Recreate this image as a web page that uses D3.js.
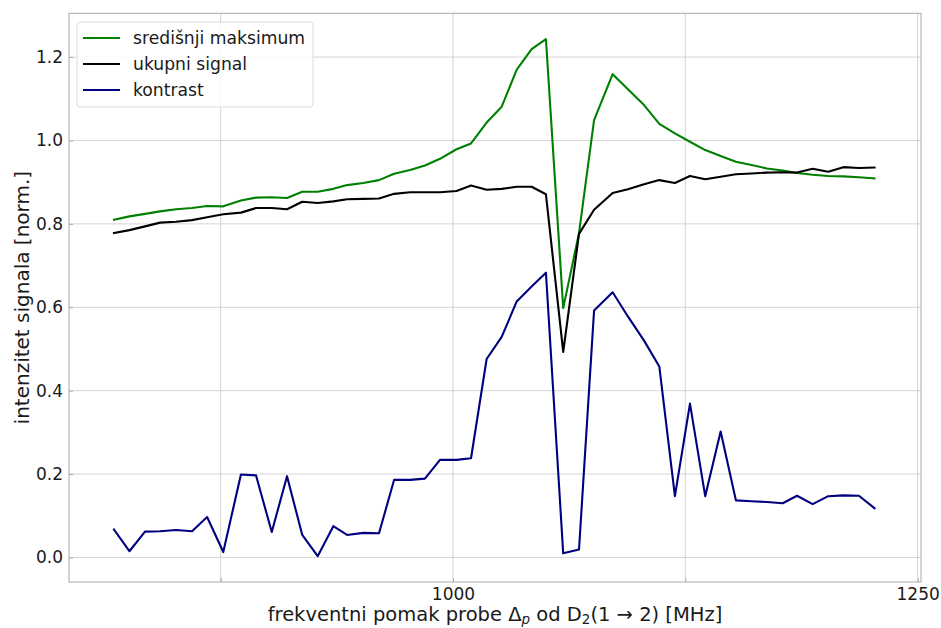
<!DOCTYPE html>
<html>
<head>
<meta charset="utf-8">
<script src="https://cdn.jsdelivr.net/npm/d3@7"></script>
<style>
  html, body { margin: 0; padding: 0; background: #fff; }
  svg { display: block; font-family: "DejaVu Sans", sans-serif; }
</style>
</head>
<body>
<svg id="chart" width="941" height="628"></svg>
<script>
// ---- data ----
const freq = [817.6, 825.9, 834.3, 842.4, 851.0, 859.6, 867.7, 876.4, 885.9, 894.0,
  902.5, 910.7, 918.9, 927.2, 935.6, 943.0, 951.7, 960.2, 968.3, 976.9,
  984.9, 993.0, 1001.9, 1009.7, 1018.1, 1026.2, 1034.3, 1042.3, 1050.0, 1059.3,
  1067.8, 1075.9, 1085.9, 1094.1, 1102.8, 1111.0, 1119.4, 1127.5, 1135.7, 1144.0,
  1152.2, 1160.6, 1168.9, 1177.4, 1185.1, 1193.5, 1201.9, 1210.0, 1218.4, 1226.8];

const centralMax = [0.810, 0.818, 0.824, 0.830, 0.835, 0.838, 0.843, 0.842, 0.856, 0.863,
  0.864, 0.862, 0.877, 0.877, 0.884, 0.893, 0.898, 0.905, 0.920, 0.929,
  0.940, 0.956, 0.979, 0.993, 1.043, 1.081, 1.170, 1.219, 1.243, 0.598,
  0.778, 1.049, 1.159, 1.123, 1.085, 1.040, 1.017, 0.997, 0.977, 0.963,
  0.949, 0.941, 0.933, 0.928, 0.922, 0.918, 0.915, 0.914, 0.912, 0.909];

const totalSignal = [0.778, 0.785, 0.794, 0.803, 0.805, 0.809, 0.816, 0.823, 0.827, 0.838,
  0.838, 0.835, 0.853, 0.850, 0.854, 0.859, 0.860, 0.861, 0.872, 0.876,
  0.876, 0.876, 0.879, 0.892, 0.882, 0.884, 0.889, 0.889, 0.871, 0.493,
  0.776, 0.834, 0.874, 0.883, 0.895, 0.905, 0.898, 0.915, 0.907, 0.913,
  0.919, 0.921, 0.923, 0.924, 0.923, 0.932, 0.925, 0.936, 0.934, 0.935];

const contrast = [0.067, 0.015, 0.062, 0.063, 0.066, 0.063, 0.097, 0.013, 0.199, 0.197,
  0.061, 0.195, 0.054, 0.003, 0.075, 0.054, 0.059, 0.058, 0.186, 0.186,
  0.189, 0.234, 0.234, 0.238, 0.476, 0.529, 0.614, 0.650, 0.683, 0.010,
  0.019, 0.592, 0.636, 0.578, 0.520, 0.458, 0.147, 0.369, 0.147, 0.302,
  0.137, 0.135, 0.133, 0.130, 0.148, 0.128, 0.147, 0.149, 0.148, 0.118];

const seriesNames = ["središnji maksimum", "ukupni signal", "kontrast"];
const seriesColors = ["#008000", "#000000", "#000080"];

const xTicks = [875, 1000, 1125, 1250];
const xTickLabels = ["", "1000", "", "1250"];
const yTicks = [0.0, 0.2, 0.4, 0.6, 0.8, 1.0, 1.2];
const yTickLabels = ["0.0", "0.2", "0.4", "0.6", "0.8", "1.0", "1.2"];

// ---- layout ----
const svg = d3.select("#chart");
const L = 69, R = 921, T = 13.3, B = 582;
const x = d3.scaleLinear().domain([793.4, 1251.8]).range([L, R]);
const y = d3.scaleLinear().domain([-0.0588, 1.305]).range([B, T]);

const spineColor = "#aaaaaa";
const gridColor = "#d4d4d4";
const tickFont = 17;

// grid
const g = svg.append("g");
g.selectAll(".gx").data(xTicks).enter().append("line")
  .attr("x1", d => x(d)).attr("x2", d => x(d))
  .attr("y1", T).attr("y2", B)
  .attr("stroke", gridColor).attr("stroke-width", 1);
g.selectAll(".gy").data(yTicks).enter().append("line")
  .attr("x1", L).attr("x2", R)
  .attr("y1", d => y(d)).attr("y2", d => y(d))
  .attr("stroke", gridColor).attr("stroke-width", 1);

// axes
const xAxis = d3.axisBottom(x).tickValues(xTicks)
  .tickFormat((d, i) => xTickLabels[i]).tickSizeInner(-4).tickSizeOuter(0).tickPadding(6);
const yAxis = d3.axisLeft(y).tickValues(yTicks)
  .tickFormat((d, i) => yTickLabels[i]).tickSizeInner(-4).tickSizeOuter(0).tickPadding(6);

const gx = svg.append("g").attr("transform", `translate(0,${B})`).call(xAxis);
const gy = svg.append("g").attr("transform", `translate(${L},0)`).call(yAxis);
[gx, gy].forEach(a => {
  a.select(".domain").remove();
  a.selectAll(".tick line").attr("stroke", spineColor).attr("stroke-width", 1);
  a.selectAll(".tick text").attr("fill", "#1a1a1a")
    .style("font-size", tickFont + "px").style("font-family", "DejaVu Sans");
});

// lines
const allSeries = [centralMax, totalSignal, contrast];
const line = d3.line().x((d, i) => x(freq[i])).y(d => y(d));
allSeries.forEach((vals, k) => {
  svg.append("path").datum(vals)
    .attr("d", line)
    .attr("fill", "none")
    .attr("stroke", seriesColors[k])
    .attr("stroke-width", 2.1)
    .attr("stroke-linejoin", "round")
    .attr("stroke-linecap", "square");
});

// spines
svg.append("rect").attr("x", L).attr("y", T).attr("width", R - L).attr("height", B - T)
  .attr("fill", "none").attr("stroke", spineColor).attr("stroke-width", 1);

// axis labels
const xl = svg.append("text").attr("x", (L + R) / 2).attr("y", 621)
  .attr("text-anchor", "middle").style("font-size", "19.5px").attr("fill", "#1a1a1a");
xl.append("tspan").text("frekventni pomak probe Δ");
xl.append("tspan").text("p").attr("font-style", "italic").attr("dy", 3).style("font-size", "13.5px");
xl.append("tspan").text(" od D").attr("dy", -3);
xl.append("tspan").text("2").attr("dy", 3).style("font-size", "13.5px");
xl.append("tspan").text("(1 \u2192 2) [MHz]").attr("dy", -3);

svg.append("text")
  .attr("transform", `translate(29,${(T + B) / 2}) rotate(-90)`)
  .attr("text-anchor", "middle").style("font-size", "20px").attr("fill", "#1a1a1a")
  .text("intenzitet signala [norm.]");

// legend
const lg = svg.append("g");
lg.append("rect").attr("x", 77).attr("y", 22).attr("width", 236).attr("height", 85)
  .attr("rx", 3).attr("fill", "#ffffff").attr("fill-opacity", 0.85)
  .attr("stroke", "#dddddd").attr("stroke-width", 1);
seriesNames.forEach((name, k) => {
  const yy = 38 + k * 26;
  lg.append("line").attr("x1", 83).attr("x2", 120).attr("y1", yy).attr("y2", yy)
    .attr("stroke", seriesColors[k]).attr("stroke-width", 2.1);
  lg.append("text").attr("x", 133).attr("y", yy + 6).style("font-size", "17.2px")
    .attr("fill", "#1a1a1a").text(name);
});
</script>
</body>
</html>
